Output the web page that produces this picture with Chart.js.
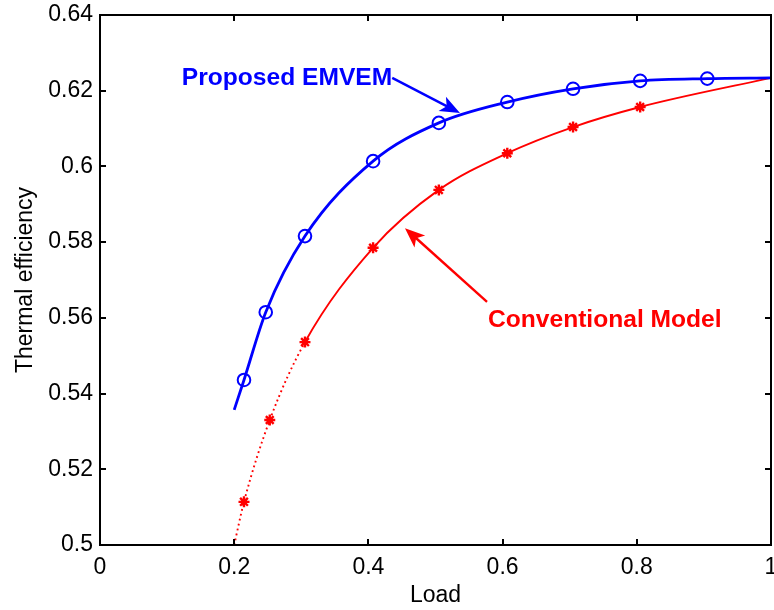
<!DOCTYPE html>
<html>
<head>
<meta charset="utf-8">
<script src="https://cdn.jsdelivr.net/npm/chart.js@4/dist/chart.umd.min.js"></script>
<style>
html,body{margin:0;padding:0;background:#fff;}
#wrap{width:774px;height:610px;}
</style>
</head>
<body>
<div id="wrap"><canvas id="c" width="774" height="610"></canvas></div>
<script>
// ---- data ----
const xTickLabels = ['0','0.2','0.4','0.6','0.8','1'];
const yTickLabels = ['0.5','0.52','0.54','0.56','0.58','0.6','0.62','0.64'];

const proposedLineX = [0.2, 0.2146, 0.247, 0.3055, 0.407, 0.505, 0.607, 0.705, 0.805, 0.905, 1.0];
const proposedLineY = [0.5357, 0.5436, 0.5615, 0.5816, 0.6014, 0.6115, 0.6170, 0.6205, 0.6226, 0.6232, 0.6234];
const proposedMarkX = [0.2146, 0.247, 0.3055, 0.407, 0.505, 0.607, 0.705, 0.805, 0.905];
const proposedMarkY = [0.5436, 0.5615, 0.5816, 0.6014, 0.6115, 0.6170, 0.6205, 0.6226, 0.6232];

const conventionalLineX = [0.2, 0.2146, 0.253, 0.3055, 0.407, 0.505, 0.607, 0.705, 0.805, 1.0];
const conventionalLineY = [0.5, 0.5114, 0.5330, 0.5536, 0.5785, 0.5938, 0.6035, 0.6104, 0.6157, 0.6234];
const conventionalMarkX = [0.2146, 0.253, 0.3055, 0.407, 0.505, 0.607, 0.705, 0.805];
const conventionalMarkY = [0.5114, 0.5330, 0.5536, 0.5785, 0.5938, 0.6035, 0.6104, 0.6157];
const dottedUntilX = 0.31;

const labelTexts = ['Proposed EMVEM', 'Conventional Model'];
const labelColors = ['#0000ff', '#ff0000'];
// text anchor (data units): [x, y, align] ; arrow tail & tip (data units)
const labelAnchors = [[0.4355, 0.6215, 'right'], [0.5782, 0.5576, 'left']];
const arrowTails = [[0.4355, 0.6234], [0.5768, 0.5642]];
const arrowTips = [[0.5365, 0.6141], [0.4545, 0.5837]];

const toPts = (xs, ys) => xs.map((x, i) => ({x: x, y: ys[i]}));

const FONT = "'Liberation Sans', Arial, Helvetica, sans-serif";

const boxPlugin = {
  id: 'boxTicks',
  afterDatasetsDraw(chart) {
    const ctx = chart.ctx, a = chart.chartArea;
    const xs = chart.scales.x, ys = chart.scales.y;
    ctx.save();
    ctx.strokeStyle = '#000';
    ctx.lineWidth = 2;
    ctx.strokeRect(a.left, a.top, a.right - a.left, a.bottom - a.top);
    const L = 6;
    ctx.beginPath();
    xs.ticks.forEach(t => {
      const px = Math.round(xs.getPixelForValue(t.value));
      ctx.moveTo(px, a.bottom); ctx.lineTo(px, a.bottom - L);
      ctx.moveTo(px, a.top); ctx.lineTo(px, a.top + L);
    });
    ys.ticks.forEach(t => {
      const py = Math.round(ys.getPixelForValue(t.value));
      ctx.moveTo(a.left, py); ctx.lineTo(a.left + L, py);
      ctx.moveTo(a.right, py); ctx.lineTo(a.right - L, py);
    });
    ctx.stroke();

    // annotations
    for (let i = 0; i < labelTexts.length; i++) {
      const col = labelColors[i];
      const tx = xs.getPixelForValue(arrowTails[i][0]), ty = ys.getPixelForValue(arrowTails[i][1]);
      const hx = xs.getPixelForValue(arrowTips[i][0]), hy = ys.getPixelForValue(arrowTips[i][1]);
      const ang = Math.atan2(hy - ty, hx - tx);
      const hl = 20, hw = 8;
      const bx = hx - hl * Math.cos(ang), by = hy - hl * Math.sin(ang);
      ctx.strokeStyle = col; ctx.fillStyle = col; ctx.lineWidth = 2.4;
      ctx.beginPath(); ctx.moveTo(tx, ty); ctx.lineTo(bx + 6 * Math.cos(ang), by + 6 * Math.sin(ang)); ctx.stroke();
      ctx.beginPath();
      ctx.moveTo(hx, hy);
      ctx.lineTo(bx + hw * Math.sin(ang), by - hw * Math.cos(ang));
      ctx.lineTo(bx + 0.25 * hl * Math.cos(ang), by + 0.25 * hl * Math.sin(ang));
      ctx.lineTo(bx - hw * Math.sin(ang), by + hw * Math.cos(ang));
      ctx.closePath(); ctx.fill();

      ctx.font = "bold 24.6px " + FONT;
      ctx.textAlign = labelAnchors[i][2];
      ctx.textBaseline = 'alphabetic';
      ctx.fillText(labelTexts[i], xs.getPixelForValue(labelAnchors[i][0]), ys.getPixelForValue(labelAnchors[i][1]));
    }
    ctx.restore();
  }
};

new Chart(document.getElementById('c'), {
  type: 'scatter',
  data: {
    datasets: [
      {
        data: toPts(proposedLineX, proposedLineY),
        showLine: true, borderColor: '#0000ff', borderWidth: 2.8,
        pointRadius: 0, cubicInterpolationMode: 'monotone', fill: false
      },
      {
        data: toPts(conventionalLineX, conventionalLineY),
        showLine: true, borderColor: '#ff0000', borderWidth: 1.9,
        pointRadius: 0, cubicInterpolationMode: 'monotone', fill: false,
        segment: {
          borderDash: ctx => (ctx.p1.parsed.x <= dottedUntilX ? [1.8, 3.2] : undefined)
        }
      },
      {
        data: toPts(proposedMarkX, proposedMarkY),
        showLine: false, pointStyle: 'circle', pointRadius: 6.3,
        borderColor: '#0000ff', backgroundColor: 'rgba(0,0,0,0)', pointBorderWidth: 2
      },
      {
        data: toPts(conventionalMarkX, conventionalMarkY),
        showLine: false, pointStyle: 'star', pointRadius: 5.5,
        borderColor: '#ff0000', backgroundColor: '#ff0000', pointBorderWidth: 2.4
      }
    ]
  },
  options: {
    responsive: false,
    animation: false,
    events: [],
    layout: { autoPadding: false, padding: { top: 15, right: 3, left: 0, bottom: 0 } },
    plugins: { legend: { display: false }, tooltip: { enabled: false } },
    scales: {
      x: {
        type: 'linear', min: 0, max: 1,
        grid: { display: false, drawTicks: false },
        border: { display: false },
        ticks: {
          stepSize: 0.2, color: '#000', padding: 9, maxRotation: 0,
          font: { family: FONT, size: 23 },
          callback: (v, i) => xTickLabels[i]
        },
        title: { display: true, text: 'Load', color: '#000', font: { family: FONT, size: 23 }, padding: { top: 0, bottom: 1 } },
        afterFit: s => { s.height = 65; s.paddingLeft = 0; s.paddingRight = 0; }
      },
      y: {
        type: 'linear', min: 0.5, max: 0.64,
        grid: { display: false, drawTicks: false },
        border: { display: false },
        ticks: {
          stepSize: 0.02, color: '#000', padding: 7,
          font: { family: FONT, size: 23 },
          callback: (v, i) => yTickLabels[i]
        },
        title: { display: true, text: 'Thermal efficiency', color: '#000', font: { family: FONT, size: 23 }, padding: { top: 12, bottom: 0 } },
        afterFit: s => { s.width = 100; s.paddingTop = 0; s.paddingBottom = 0; }
      }
    }
  },
  plugins: [boxPlugin]
});
</script>
</body>
</html>
